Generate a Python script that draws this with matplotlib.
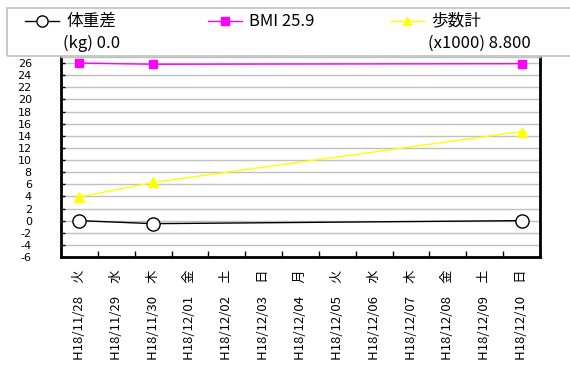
import numpy as np
import matplotlib
matplotlib.use('Agg')
from matplotlib import pyplot as plt
from matplotlib.lines import Line2D
from matplotlib.patches import Rectangle

plt.rcParams['font.family'] = ['Noto Sans CJK JP', 'DejaVu Sans']

# categories (dates + weekday)
dates = ['H18/11/28', 'H18/11/29', 'H18/11/30', 'H18/12/01', 'H18/12/02', 'H18/12/03', 'H18/12/04',
         'H18/12/05', 'H18/12/06', 'H18/12/07', 'H18/12/08', 'H18/12/09', 'H18/12/10']
weekdays = ['火', '水', '木', '金', '土', '日', '月', '火', '水', '木', '金', '土', '日']

# days that have a measurement (index into dates)
measured_idx = [0, 2, 12]
weight_diff = [0.0, -0.5, 0.0]     # 体重差 (kg)
bmi = [26.0, 25.8, 25.9]           # BMI
steps = [3.9, 6.3, 14.7]           # 歩数計 (x1000)

series_names = ['体重差', 'BMI 25.9', '歩数計']
series_sub = ['(kg) 0.0', '', '(x1000) 8.800']
series_colors = ['black', '#ff00ff', '#ffff00']
series_markers = ['o', 's', '^']
series_msize = [9.5, 6, 7]
series_face = ['white', '#ff00ff', '#ffff00']

y_ticks = np.arange(-6, 27, 2)

fig = plt.figure(figsize=(5.7, 3.75), dpi=100)
ax = fig.add_axes([61/570, 118/375, 479/570, 200/375])

all_data = [weight_diff, bmi, steps]
for vals, col, mk, ms, fc in zip(all_data, series_colors, series_markers, series_msize, series_face):
    ax.plot(measured_idx, vals, color=col, lw=1.0, marker=mk, markersize=ms,
            markerfacecolor=fc, markeredgecolor=col, markeredgewidth=1.0, zorder=3)

ax.set_xlim(-0.5, len(dates) - 0.5)
ax.set_ylim(-6, 27)
ax.set_yticks(y_ticks)
ax.set_yticklabels([str(v) for v in y_ticks], fontsize=8,
                   family=['Liberation Sans Narrow', 'DejaVu Sans'])
ax.yaxis.grid(True, color='#c0c0c0', lw=1.0)
ax.set_axisbelow(True)
ax.tick_params(axis='y', direction='in', length=3, width=1, pad=21)

ax.set_xticks(range(len(dates)))
ax.set_xticklabels([d + '　' + w for d, w in zip(dates, weekdays)], rotation=90, fontsize=9.5)
ax.tick_params(axis='x', length=0, pad=9)
ax.set_xticks(np.arange(0.5, len(dates) - 1, 1), minor=True)
ax.tick_params(axis='x', which='minor', direction='in', length=4, width=1)

for side in ['left', 'bottom', 'right']:
    ax.spines[side].set_linewidth(2)
    ax.spines[side].set_color('black')
ax.spines['top'].set_color('#c0c0c0')
ax.spines['top'].set_linewidth(1)

# legend box across the top
fig.patches.append(Rectangle((7/570, (375-56)/375), 600/570, 48/375, transform=fig.transFigure,
                             fill=False, edgecolor='#c0c0c0', lw=1.2))
legend_x = [25, 208, 390]
for i, name in enumerate(series_names):
    x0 = legend_x[i] / 570
    x1 = (legend_x[i] + 34) / 570
    yy = (375 - 21) / 375
    fig.lines.append(Line2D([x0, x1], [yy, yy], transform=fig.transFigure, color=series_colors[i], lw=1.0))
    fig.lines.append(Line2D([(x0 + x1) / 2], [yy], transform=fig.transFigure, color=series_colors[i],
                            marker=series_markers[i], markersize=series_msize[i] * 0.85,
                            markerfacecolor=series_face[i], markeredgecolor=series_colors[i]))
    fig.text((legend_x[i] + 41) / 570, yy, name, fontsize=12, va='center', ha='left')
    if series_sub[i]:
        fig.text((legend_x[i] + 38) / 570, (375 - 43) / 375, series_sub[i], fontsize=12, va='center', ha='left')

fig.savefig('out.png', dpi=100)
